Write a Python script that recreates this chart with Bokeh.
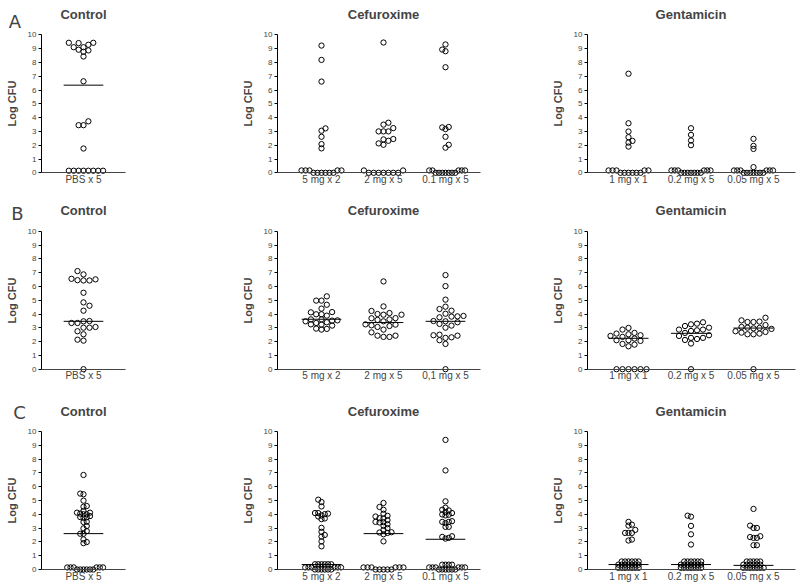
import math
from bokeh.plotting import figure
from bokeh.layouts import row, column
from bokeh.models import FixedTicker, Label, Range1d, LinearAxis, Grid
from bokeh.embed import file_html
from bokeh.resources import INLINE

# ---------------- data ----------------
ctrl_labels = ["PBS x 5"]
cef_labels = ["5 mg x 2", "2 mg x 5", "0.1 mg x 5"]
cef_labels_b = ["5 mg x 2", "2 mg x 5", "0,1 mg x 5"]
gen_labels = ["1 mg x 1", "0.2 mg x 5", "0.05 mg x 5"]
panel_titles = ["Control", "Cefuroxime", "Gentamicin"]
row_letters = ["A", "B", "C"]

# Row A
a_ctrl_pbs = [9.42, 9.28, 9.1, 9.42, 8.92, 8.87, 9.1, 9.4, 8.77, 8.43, 6.63, 3.73, 3.45, 3.45, 1.76,
              0.15, 0.15, 0.15, 0.15, 0.15, 0.15, 0.15, 0.15]
a_ctrl_median = [6.35]
a_cef_5mg = [9.22, 8.18, 6.61, 3.22, 3.05, 2.61, 2.08, 1.77,
             0.17, 0.17, 0.17, 0.17, 0.17, 0.0, 0.0, 0.0, 0.0, 0.0, 0.0]
a_cef_2mg = [9.44, 3.63, 3.49, 3.24, 3.0, 3.0, 3.0, 2.45, 2.42, 2.32, 2.13, 2.03,
             0.17, 0.17, 0.0, 0.0, 0.0, 0.0, 0.0, 0.0, 0.0]
a_cef_01mg = [9.3, 8.93, 8.81, 7.65, 3.29, 3.17, 3.32, 2.61, 2.03, 1.82,
              0.17, 0.17, 0.17, 0.17, 0.17, 0.0, 0.0, 0.0, 0.0, 0.0, 0.0, 0.0]
a_cef_medians = [None, None, None]
a_gen_1mg = [7.18, 3.59, 2.99, 2.58, 2.31, 2.19, 1.9,
             0.17, 0.17, 0.17, 0.17, 0.17, 0.0, 0.0, 0.0, 0.0, 0.0, 0.0]
a_gen_02mg = [3.23, 2.75, 2.34, 2.0,
              0.17, 0.17, 0.17, 0.17, 0.17, 0.17, 0.0, 0.0, 0.0, 0.0, 0.0, 0.0, 0.0]
a_gen_005mg = [2.46, 1.95, 1.73, 0.41,
               0.17, 0.17, 0.17, 0.17, 0.17, 0.17, 0.0, 0.0, 0.0, 0.0, 0.0, 0.0, 0.0]
a_gen_medians = [None, None, None]

# Row B
b_ctrl_pbs = [7.11, 6.87, 6.55, 6.51, 6.45, 6.43, 6.43, 5.54, 4.84, 4.6, 4.24, 3.49, 3.47, 3.35,
              3.35, 3.06, 3.01, 3.01, 2.75, 2.53, 2.14, 2.07, 0.0]
b_ctrl_median = [3.47]
b_cef_5mg = [5.28, 4.97, 4.97, 4.67, 4.39, 4.14, 4.12, 3.98, 3.98, 3.88, 3.61, 3.61, 3.54, 3.52,
             3.47, 3.4, 3.35, 3.25, 3.23, 3.16, 2.94, 2.92, 2.87]
b_cef_2mg = [6.36, 4.55, 4.22, 4.07, 4.0, 3.95, 3.95, 3.69, 3.7, 3.61, 3.57, 3.47, 3.25, 3.23,
             3.18, 3.13, 3.06, 2.87, 2.67, 2.43, 2.43, 2.34, 2.34]
b_cef_01mg = [6.82, 6.02, 5.04, 4.53, 4.36, 4.24, 4.02, 3.86, 3.83, 3.81, 3.76, 3.49, 3.47, 3.4,
              3.28, 3.16, 3.01, 2.5, 2.46, 2.43, 2.31, 2.27, 2.1, 1.83, 0.0]
b_cef_medians = [3.62, 3.38, 3.47]
b_gen_1mg = [2.99, 2.87, 2.63, 2.58, 2.53, 2.46, 2.41, 2.34, 2.22, 2.1, 2.1, 2.05, 1.83, 1.78, 1.66,
             0.0, 0.0, 0.0, 0.0, 0.0, 0.0]
b_gen_02mg = [3.4, 3.3, 3.25, 3.13, 3.01, 2.87, 2.87, 2.82, 2.77, 2.63, 2.46, 2.41, 2.27, 2.27,
              2.19, 2.12, 1.86, 0.0]
b_gen_005mg = [3.73, 3.54, 3.45, 3.42, 3.42, 3.2, 3.06, 3.01, 2.99, 2.96, 2.92, 2.75, 2.7, 2.65,
               2.58, 2.53, 2.53, 0.0]
b_gen_medians = [2.24, 2.6, 2.98]

# Row C
c_ctrl_pbs = [6.85, 5.5, 5.45, 4.99, 4.6, 4.55, 4.24, 4.12, 4.12, 4.05, 4.0, 4.0, 3.87, 3.8, 3.78,
              3.75, 3.46, 3.44, 3.15, 2.98, 2.78, 2.59, 2.59, 2.18, 1.99, 1.91,
              0.15, 0.15, 0.15, 0.15, 0.15, 0.15, 0.0, 0.0, 0.0, 0.0, 0.0, 0.0]
c_ctrl_median = [2.6]
c_cef_5mg = [5.06, 4.89, 4.57, 4.09, 4.09, 4.05, 4.01, 3.92, 3.84, 3.7, 3.65, 3.02, 2.73, 2.5,
             2.38, 2.04, 1.68,
             0.38, 0.38, 0.38, 0.38, 0.38, 0.38, 0.15, 0.15, 0.15, 0.15, 0.15, 0.15,
             0.0, 0.0, 0.0, 0.0, 0.0, 0.0]
c_cef_2mg = [4.82, 4.53, 4.33, 4.04, 3.89, 3.84, 3.72, 3.7, 3.58, 3.45, 3.43, 3.41, 3.28, 3.16,
             3.0, 2.87, 2.7, 2.68, 2.65, 2.55, 2.04,
             0.15, 0.15, 0.15, 0.15, 0.15, 0.15, 0.0, 0.0, 0.0, 0.0, 0.0]
c_cef_01mg = [9.39, 7.18, 4.94, 4.48, 4.33, 4.28, 4.16, 4.09, 3.99, 3.97, 3.92, 3.5, 3.45, 3.45,
              3.36, 3.09, 3.09, 2.41, 2.36, 2.29, 2.24,
              0.35, 0.35, 0.35, 0.35, 0.15, 0.15, 0.15, 0.15, 0.15, 0.15,
              0.0, 0.0, 0.0, 0.0, 0.0, 0.0]
c_cef_medians = [0.36, 2.6, 2.19]
c_gen_1mg = [3.45, 3.25, 3.18, 2.87, 2.65, 2.65, 2.65, 2.17, 2.1,
             0.58, 0.58, 0.58, 0.58, 0.58, 0.58, 0.35, 0.35, 0.35, 0.35, 0.35, 0.35, 0.35,
             0.12, 0.12, 0.12, 0.12, 0.12, 0.12, 0.12]
c_gen_02mg = [3.9, 3.83, 3.16, 2.55, 1.81,
              0.58, 0.58, 0.58, 0.58, 0.58, 0.58, 0.35, 0.35, 0.35, 0.35, 0.35, 0.35, 0.35,
              0.12, 0.12, 0.12, 0.12, 0.12, 0.12, 0.12]
c_gen_005mg = [4.39, 3.18, 3.01, 3.01, 2.41, 2.35, 2.29, 2.29, 1.76, 1.76,
               0.58, 0.58, 0.58, 0.58, 0.58, 0.35, 0.35, 0.35, 0.35, 0.35, 0.35,
               0.12, 0.12, 0.12, 0.12, 0.12, 0.12, 0.12]
c_gen_medians = [0.36, 0.36, 0.3]

y_ticks = [0, 1, 2, 3, 4, 5, 6, 7, 8, 9, 10]

# ---------------- styling / layout ----------------
FONT = "Liberation Sans"
PPY = 13.8                      # px per log unit
ROW_H = [196, 197, 191]         # figure heights
ROW_TOP = [34.3, 34.7, 38.0]    # px from figure top down to y = 10
LETTER_UP = [13.5, 17.5, 19.5]  # letter anchor, px above y = 10
LETTER_X = [14.5, 17.0, 19.0]   # letter centre, px from figure left
TITLE_UP = 20.5                 # title anchor, px above y = 10

# (figure width, px per category, px to first category, px to y axis, px to x-axis end)
COLS = [(240, 62.0, 83.0, 41.0, 125.0),
        (310, 62.0, 81.0, 37.0, 240.0),
        (248, 62.5, 78.0, 37.0, 245.0)]


def place(vals, ppy, s, d):
    order = sorted(range(len(vals)), key=lambda i: vals[i])
    placed = []
    xs = [0.0] * len(vals)
    for n, i in enumerate(order):
        y = vals[i] * ppy
        near = [(px, py) for px, py in placed if abs(py - y) < d]
        sign = 1 if n % 2 else -1
        cand = [0] + [c for m in range(1, 80) for c in (sign * m, -sign * m)]
        x = 0.0
        for kk in cand:
            x = kk * s
            if all((x - px) ** 2 + (y - py) ** 2 >= d * d - 1e-9 for px, py in near):
                break
        xs[i] = x
        placed.append((x, y))
    return xs


def swarm(vals, ppy, limit=20.0):
    f = 1.0
    while True:
        xs = place(vals, ppy, 6.0 * f, 5.5 * f)
        if max(abs(v) for v in xs) <= limit or f < 0.25:
            return xs
        f *= 0.96


def panel(ri, ci, groups, medians, labels, title, letter=None):
    w, ppx, first, yax, xend = COLS[ci]
    h = ROW_H[ri]
    top = ROW_TOP[ri]
    ytop = 10 + top / PPY
    ybot = 10 - (h - top) / PPY
    xs0 = 1.0 - first / ppx
    xs1 = xs0 + w / ppx
    yax_x = xs0 + yax / ppx
    xend_x = xs0 + xend / ppx

    p = figure(width=w, height=h, output_backend="svg", toolbar_location=None,
               x_range=Range1d(xs0, xs1), y_range=Range1d(ybot, ytop),
               x_axis_location=None, y_axis_location=None, min_border=0)
    p.outline_line_color = None
    for r in list(p.center):
        if isinstance(r, Grid):
            r.visible = False
    p.background_fill_color = "white"
    p.border_fill_color = "white"

    for gi, vals in enumerate(groups):
        offs = swarm(vals, PPY)
        xs = [gi + 1 + o / ppx for o in offs]
        p.scatter(xs, vals, marker="circle", size=5.3, fill_color=None,
                  line_color="black", line_width=1)
        m = medians[gi]
        if m is not None:
            p.segment(x0=[gi + 1 - 0.32], x1=[gi + 1 + 0.32], y0=[m], y1=[m],
                      line_color="black", line_width=1)

    ya = LinearAxis(fixed_location=yax_x, bounds=(0, 10), ticker=FixedTicker(ticks=y_ticks))
    ya.axis_label = "Log CFU"
    ya.axis_label_text_font = FONT
    ya.axis_label_text_font_style = "bold"
    ya.axis_label_text_font_size = "11px"
    ya.axis_label_standoff = 7
    ya.major_label_text_font = FONT
    ya.major_label_text_font_size = "8px"
    ya.major_label_standoff = 2
    ya.major_tick_out = 3
    ya.major_tick_in = 0
    ya.minor_tick_line_color = None
    ya.axis_line_color = "black"
    ya.major_tick_line_color = "black"
    p.add_layout(ya, "left")

    xa = LinearAxis(fixed_location=0, bounds=(yax_x, xend_x),
                    ticker=FixedTicker(ticks=[i + 1 for i in range(len(labels))]))
    xa.major_label_overrides = {i + 1: lab for i, lab in enumerate(labels)}
    xa.major_label_text_font = FONT
    xa.major_label_text_font_size = "10px"
    xa.major_label_standoff = 1
    xa.major_tick_line_color = None
    xa.major_tick_out = 0
    xa.major_tick_in = 0
    xa.minor_tick_line_color = None
    xa.axis_line_color = "#444444"
    p.add_layout(xa, "below")

    tx = 1 if len(labels) == 1 else 2
    p.add_layout(Label(x=tx, y=10 + TITLE_UP / PPY, text=title, text_font=FONT,
                       text_font_style="bold", text_font_size="13px",
                       text_align="center", text_baseline="alphabetic"))
    if letter is not None:
        p.add_layout(Label(x=xs0 + LETTER_X[ri] / ppx, y=10 + LETTER_UP[ri] / PPY, text=letter,
                           text_font="DejaVu Sans", text_font_size="18px",
                           text_align="center", text_baseline="alphabetic"))
    return p


rows = []
data_rows = [
    ([a_ctrl_pbs], a_ctrl_median, [a_cef_5mg, a_cef_2mg, a_cef_01mg], a_cef_medians,
     [a_gen_1mg, a_gen_02mg, a_gen_005mg], a_gen_medians, cef_labels),
    ([b_ctrl_pbs], b_ctrl_median, [b_cef_5mg, b_cef_2mg, b_cef_01mg], b_cef_medians,
     [b_gen_1mg, b_gen_02mg, b_gen_005mg], b_gen_medians, cef_labels_b),
    ([c_ctrl_pbs], c_ctrl_median, [c_cef_5mg, c_cef_2mg, c_cef_01mg], c_cef_medians,
     [c_gen_1mg, c_gen_02mg, c_gen_005mg], c_gen_medians, cef_labels),
]
for ri, (cg, cm, fg, fm, gg, gm, flabs) in enumerate(data_rows):
    p1 = panel(ri, 0, cg, cm, ctrl_labels, panel_titles[0], row_letters[ri])
    p2 = panel(ri, 1, fg, fm, flabs, panel_titles[1])
    p3 = panel(ri, 2, gg, gm, gen_labels, panel_titles[2])
    rows.append(row(p1, p2, p3, spacing=0))

layout = column(*rows, spacing=0)
open("out.html", "w").write(file_html(layout, INLINE))
